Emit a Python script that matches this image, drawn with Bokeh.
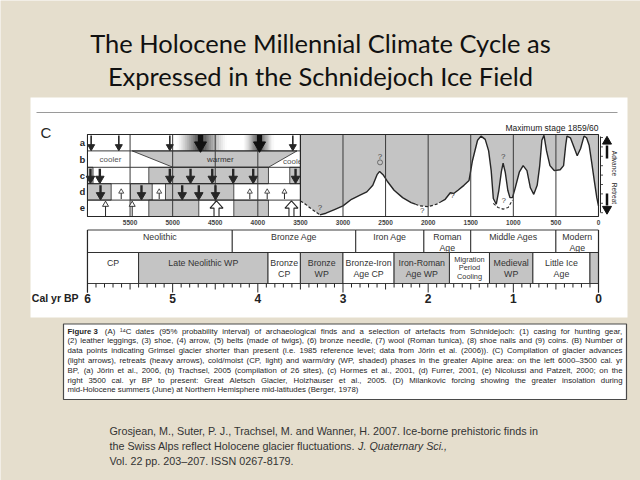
import math
from bokeh.plotting import figure
from bokeh.models import Range1d
from bokeh.core.properties import value
from bokeh.embed import file_html
from bokeh.resources import INLINE

# ------------------------------------------------------------------ data
title_lines = ["The Holocene Millennial Climate Cycle as",
               "Expressed in the Schnidejoch Ice Field"]

row_labels = ["a", "b", "c", "d", "e"]
top_axis_years = [5500, 5000, 4500, 4000, 3500, 3000, 2500, 2000, 1500, 1000, 500, 0]
grid_years = [5500, 5000, 4500, 4000, 3000, 2500, 2000, 1500, 1000, 500]

culture_labels = ["Neolithic", "Bronze Age", "Iron Age", "Roman\nAge", "Middle Ages", "Modern\nAge"]
culture_from = [6000, 4300, 2850, 2050, 1500, 500]
culture_to = [4300, 2850, 2050, 1500, 500, 0]

phase_labels = ["CP", "Late Neolithic WP", "Bronze\nCP", "Bronze\nWP", "Bronze-Iron\nAge CP",
                "Iron-Roman\nAge WP", "Migration\nPeriod\nCooling", "Medieval\nWP", "Little Ice\nAge", ""]
phase_from = [6000, 5400, 3880, 3500, 3000, 2400, 1750, 1280, 770, 100]
phase_to = [5400, 3880, 3500, 3000, 2400, 1750, 1280, 770, 100, 0]
phase_type = ["CP", "WP", "CP", "WP", "CP", "WP", "CP", "WP", "CP", "WP"]

ka_ticks = [6, 5, 4, 3, 2, 1, 0]

# panel rows a-e, 6000-3500 cal yr BP
shaded_row = ["c", "c", "c", "d", "d", "d", "e", "e"]
shaded_from = [6000, 5280, 3625, 6000, 5495, 5084, 5280, 4282]
shaded_to = [5935, 3875, 3500, 5722, 5240, 4282, 4693, 3875]

warm_b_top = [5475, 3540]
warm_b_bottom = [4995, 3875]
b_labels = ["cooler", "warmer", "cooler"]
b_label_years = [5730, 4440, 3575]

gradient_from = [4947, 4165]
gradient_to = [4360, 3812]
gradient_peak = [4673, 3980]

arrow_row = ["a", "a", "a", "a", "a", "a",
             "c", "c", "c", "c", "c", "c", "c", "c",
             "d", "d", "d", "d", "d", "d", "d", "d", "d", "d",
             "e", "e", "e", "e"]
arrow_year = [5957, 5632, 5033, 3589, 4673, 3980,
              5965, 5855, 5033, 4790, 4535, 4289, 4054, 3557,
              5847, 5366, 4888, 4693, 4497, 5604, 5158, 4094, 3890, 3687,
              5788, 5475, 4485, 3605]
arrow_kind = ["thin", "thin", "thin", "thin", "major", "major",
              "retreat", "retreat", "retreat", "retreat", "retreat", "retreat", "retreat", "retreat",
              "retreat", "retreat", "retreat", "retreat", "retreat",
              "advance", "advance", "advance", "advance", "advance",
              "advance_e", "advance_e", "advance_big", "advance_big"]

# Great Aletsch glacier extent (0 = minimum, 1 = maximum stage 1859/60)
glacier_years = [3500, 3440, 3380, 3272, 3200, 3100, 3000, 2900, 2800, 2720, 2650, 2600, 2570, 2530,
                 2480, 2400, 2300, 2200, 2150, 2100, 2000, 1900, 1850, 1800, 1740, 1700, 1650, 1580,
                 1520, 1480, 1420, 1380, 1330, 1290, 1260, 1235, 1200, 1170, 1140, 1120, 1095, 1065,
                 1040, 1010, 980, 930, 885, 840, 800, 760, 720, 690, 665, 640, 610, 570, 520, 450,
                 410, 385, 370, 330, 290, 250, 210, 170, 140, 110, 80, 50, 20, 0]
glacier_extent = [0.19, 0.15, 0.10, 0.02, 0.04, 0.085, 0.13, 0.21, 0.26, 0.30, 0.38, 0.51, 0.55, 0.51,
                  0.43, 0.32, 0.23, 0.17, 0.15, 0.13, 0.12, 0.15, 0.18, 0.21, 0.29, 0.28, 0.32, 0.38,
                  0.44, 0.68, 0.93, 0.98, 0.94, 0.80, 0.56, 0.22, 0.15, 0.32, 0.55, 0.65, 0.54, 0.32,
                  0.23, 0.23, 0.34, 0.54, 0.62, 0.56, 0.35, 0.27, 0.38, 0.62, 0.93, 0.99, 0.80, 0.62,
                  0.56, 0.57, 0.62, 0.87, 0.98, 0.96, 0.85, 0.74, 0.83, 0.98, 0.96, 0.87, 0.66, 0.44,
                  0.23, 0.13]
dashed_from = [3500, 2150]
dashed_to = [3272, 1850]
alt_years = [1235, 1180, 1120, 1060, 1010]
alt_extent = [0.16, 0.11, 0.09, 0.11, 0.20]
question_years = [3270, 2565, 2070, 1715, 1120, 1112]
question_extent = [0.11, 0.73, 0.07, 0.26, 0.73, 0.19]

caption_head = "Figure 3"
caption_lines = [
    "(A) \u00b9\u2074C dates (95% probability interval) of archaeological finds and a selection of artefacts from Schnidejoch: (1) casing for hunting gear,",
    "(2) leather leggings, (3) shoe, (4) arrow, (5) belts (made of twigs), (6) bronze needle, (7) wool (Roman tunica), (8) shoe nails and (9) coins. (B) Number of",
    "data points indicating Grimsel glacier shorter than present (i.e. 1985 reference level; data from J\u00f6rin et al. (2006)). (C) Compilation of glacier advances",
    "(light arrows), retreats (heavy arrows), cold/moist (CP, light) and warm/dry (WP, shaded) phases in the greater Alpine area: on the left 6000\u20133500 cal. yr",
    "BP, (a) J\u00f6rin et al., 2006, (b) Trachsel, 2005 (compilation of 26 sites), (c) Hormes et al., 2001, (d) Furrer, 2001, (e) Nicolussi and Patzelt, 2000; on the",
    "right 3500 cal. yr BP to present: Great Aletsch Glacier, Holzhauser et al., 2005. (D) Milankovic forcing showing the greater insolation during",
    "mid-Holocene summers (June) at Northern Hemisphere mid-latitudes (Berger, 1978)",
]
citation_lines = [
    "Grosjean, M., Suter, P. J., Trachsel, M. and Wanner, H. 2007. Ice-borne prehistoric finds in",
    "the Swiss Alps reflect Holocene glacier fluctuations.",
    "Vol. 22 pp. 203\u2013207. ISSN 0267-8179.",
]
citation_journal = "J. Quaternary Sci.,"

# ------------------------------------------------------------------ layout / style
BG = "#e5decd"
GRAY = "#c4c4c4"
INK = "#262626"
W, H = 640, 480
PX_PER_YR = 0.08517      # horizontal scale of the panel
X_ZERO = 598.0           # page pixel of 0 cal yr BP
YPP = 1.0 / PX_PER_YR
PT, PB = 134.0, 216.0    # upper panel top / bottom (page px)
ROW_H = (PB - PT) / 5.0
row_top = {r: PT + i * ROW_H for i, r in enumerate(row_labels)}
R1T, R1B, R2B = 229.5, 252.0, 283.0

p = figure(width=W, height=H, output_backend="svg", toolbar_location=None, title=None,
           x_range=Range1d(X_ZERO / PX_PER_YR, (X_ZERO - W) / PX_PER_YR),
           y_range=Range1d(H, 0),
           x_axis_location=None, y_axis_location=None,
           min_border=0, min_border_left=0, min_border_right=0, min_border_top=0, min_border_bottom=0)
p.grid.visible = False
p.outline_line_color = None
p.background_fill_color = BG
p.border_fill_color = BG
p.extra_x_ranges = {"px": Range1d(0, W)}
span = PB - PT
p.extra_y_ranges = {"gl": Range1d(-(H - PB) / span, PB / span)}

# approximate Arial / Liberation Sans advance widths (1/1000 em), used to justify text
_AW = {' ': 278, '!': 278, '"': 355, '%': 889, '&': 667, "'": 191, '(': 333, ')': 333, ',': 278,
       '-': 333, '.': 278, '/': 278, ':': 278, ';': 278, '?': 556, 'A': 667, 'B': 667, 'C': 722,
       'D': 722, 'E': 667, 'F': 611, 'G': 778, 'H': 722, 'I': 278, 'J': 500, 'K': 667, 'L': 556,
       'M': 833, 'N': 722, 'O': 778, 'P': 667, 'Q': 778, 'R': 722, 'S': 667, 'T': 611, 'U': 722,
       'V': 667, 'W': 944, 'X': 667, 'Y': 667, 'Z': 611, 'a': 556, 'b': 556, 'c': 500, 'd': 556,
       'e': 556, 'f': 278, 'g': 556, 'h': 556, 'i': 222, 'j': 222, 'k': 500, 'l': 222, 'm': 833,
       'n': 556, 'o': 556, 'p': 556, 'q': 556, 'r': 333, 's': 500, 't': 278, 'u': 556, 'v': 500,
       'w': 722, 'x': 500, 'y': 500, 'z': 500, '\u00b9': 333, '\u2074': 333, '\u2013': 556}


def em(s, bold=False):
    return sum(_AW.get(ch, 556) for ch in s) / 1000.0 * (1.06 if bold else 1.0)


def T(x, y, s, size, align="left", baseline="middle", style="normal", color=INK,
      font="Liberation Sans", angle=0.0, xr="px", yname="default"):
    p.text(x=[x], y=[y], text=[s], x_range_name=xr, y_range_name=yname,
           text_font=value(font), text_font_size=f"{size}px", text_align=align,
           text_baseline=baseline, text_font_style=style, text_color=color, angle=angle)


def words_line(words, x0, x1, y, size, color, justify=True):
    widths = [em(w) * size for w in words]
    if justify and len(words) > 1:
        gap = (x1 - x0 - sum(widths)) / (len(words) - 1)
    else:
        gap = em(" ") * size
    xs, cx = [], x0
    for w in widths:
        xs.append(cx)
        cx += w + gap
    p.text(x=xs, y=[y] * len(words), text=words, x_range_name="px",
           text_font=value("Liberation Sans"), text_font_size=f"{size}px", text_align="left",
           text_baseline="middle", text_color=color)


# ---- title
T(320, 42, title_lines[0], 25.5, align="center", font="Lato", color="#111111")
T(320, 75, title_lines[1], 25.5, align="center", font="Lato", color="#111111")

# ---- white figure area
p.quad(left=[30], right=[627], top=[97], bottom=[317], x_range_name="px",
       fill_color="white", line_color=None)
p.segment(x0=[36], y0=[112], x1=[617], y1=[112], x_range_name="px", line_color="#9a9a9a", line_width=1)
T(40, 132, "C", 15, font="Liberation Sans")
T(X_ZERO, 127.5, "Maximum stage 1859/60", 8.5, align="right", color="#1a1a1a")

# ---- row labels
for r in row_labels:
    T(82, row_top[r] + ROW_H / 2, r, 9.5, align="center", style="bold")

# ---- row a gradients (shaded intervals around major retreats)
for g0, g1, gp in zip(gradient_from, gradient_to, gradient_peak):
    n = 26
    for k in range(n):
        a = g0 + (g1 - g0) * k / n
        b = g0 + (g1 - g0) * (k + 1) / n
        m = 0.5 * (a + b)
        half = (g0 - gp) if m > gp else (gp - g1)
        t = max(0.0, 1 - abs(m - gp) / half)
        lv = int(255 - 200 * t ** 1.3)
        c = "#%02x%02x%02x" % (lv, lv, lv)
        p.quad(left=[a], right=[b], top=[row_top["a"]], bottom=[row_top["a"] + ROW_H],
               fill_color=c, line_color=c, line_width=0.5)

# ---- row b warm trapezoid
p.patch(x=[warm_b_top[0], warm_b_top[1], warm_b_bottom[1], warm_b_bottom[0]],
        y=[row_top["b"], row_top["b"], row_top["b"] + ROW_H, row_top["b"] + ROW_H],
        fill_color=GRAY, line_color=INK, line_width=0.8)
for lab, yr in zip(b_labels, b_label_years):
    dy = 2 if lab == "cooler" and yr < 4000 else 0
    col = "#333333" if lab == "warmer" else "#555555"
    T(yr, row_top["b"] + ROW_H / 2 + dy, lab, 8, align="center", xr="default", color=col)

# ---- shaded cells rows c-e
for r, s0, s1 in zip(shaded_row, shaded_from, shaded_to):
    p.quad(left=[s0], right=[s1], top=[row_top[r]], bottom=[row_top[r] + ROW_H],
           fill_color=GRAY, line_color=INK, line_width=0.8)

# ---- glacier curve area (3500-0)
p.varea(x=glacier_years, y1=glacier_extent, y2=[1.0] * len(glacier_years),
        y_range_name="gl", fill_color=GRAY)

solid_x, solid_y, dash_x, dash_y = [], [], [], []
cur_style, cur_x, cur_y = None, [], []
for i in range(len(glacier_years) - 1):
    m = 0.5 * (glacier_years[i] + glacier_years[i + 1])
    dashed = any(d1 <= m <= d0 for d0, d1 in zip(dashed_from, dashed_to))
    if dashed != cur_style:
        if cur_x:
            (dash_x if cur_style else solid_x).append(cur_x)
            (dash_y if cur_style else solid_y).append(cur_y)
        cur_style = dashed
        cur_x, cur_y = [glacier_years[i]], [glacier_extent[i]]
    cur_x.append(glacier_years[i + 1])
    cur_y.append(glacier_extent[i + 1])
(dash_x if cur_style else solid_x).append(cur_x)
(dash_y if cur_style else solid_y).append(cur_y)
p.multi_line(xs=solid_x, ys=solid_y, y_range_name="gl", line_color=INK, line_width=1.4)
p.multi_line(xs=dash_x, ys=dash_y, y_range_name="gl", line_color=INK, line_width=1.2, line_dash="3 2")
p.line(alt_years, alt_extent, y_range_name="gl", line_color=INK, line_width=1.1, line_dash="3 2")
p.scatter([2565], [0.66], y_range_name="gl", marker="circle", size=5, fill_color=None,
          line_color="#555555", line_width=0.8)
for qy, qe in zip(question_years, question_extent):
    p.text(x=[qy], y=[qe], text=["?"], y_range_name="gl", text_font=value("Liberation Sans"),
           text_font_size="8px", text_align="center", text_baseline="middle", text_color="#444444")

# ---- row lines and grid
for i in range(6):
    yy = PT + i * ROW_H
    p.segment(x0=[6000], y0=[yy], x1=[3500], y1=[yy], line_color=INK, line_width=0.9)
p.segment(x0=grid_years, y0=[PT] * len(grid_years), x1=grid_years, y1=[PB] * len(grid_years),
          line_color="#3a3a3a", line_width=1.0)
p.segment(x0=[3500], y0=[PT], x1=[3500], y1=[PB], line_color=INK, line_width=1.2)
p.quad(left=[6000], right=[0], top=[PT], bottom=[PB], fill_color=None, line_color=INK, line_width=1.1)

# ---- arrows
for r, yr, k in zip(arrow_row, arrow_year, arrow_kind):
    t0 = row_top[r]
    b0 = t0 + ROW_H
    if k == "thin":
        p.segment(x0=[yr], y0=[t0 + 1], x1=[yr], y1=[b0 - 5], line_color=INK, line_width=1.6)
        p.scatter([yr], [b0 - 4.2], marker="inverted_triangle", size=7, fill_color=INK, line_color=INK)
    elif k == "major":
        p.segment(x0=[yr], y0=[t0 + 0.5], x1=[yr], y1=[b0 - 7], line_color="#111111", line_width=5)
        p.scatter([yr], [b0 - 5.5], marker="inverted_triangle", size=12, fill_color="#111111", line_color="#111111")
    elif k == "retreat":
        p.segment(x0=[yr], y0=[t0 + 1.5], x1=[yr], y1=[b0 - 6], line_color=INK, line_width=2.4)
        p.scatter([yr], [b0 - 5], marker="inverted_triangle", size=8.5, fill_color=INK, line_color=INK)
    elif k == "advance":
        p.segment(x0=[yr], y0=[b0 - 1], x1=[yr], y1=[t0 + 8], line_color=INK, line_width=1.0)
        p.scatter([yr], [t0 + 8], marker="triangle", size=5, fill_color="white", line_color=INK, line_width=0.8)
    elif k == "advance_e":
        p.segment(x0=[yr], y0=[b0], x1=[yr], y1=[t0 + 4.5], line_color=INK, line_width=1.0)
        p.scatter([yr], [t0 + 4.5], marker="triangle", size=6, fill_color="white", line_color=INK, line_width=0.9)
    elif k == "advance_big":
        dxs = [0, 6.5, 2.5, 2.5, -2.5, -2.5, -6.5]
        dys = [t0 + 0.8, t0 + 8, t0 + 8, b0, b0, t0 + 8, t0 + 8]
        p.patch(x=[yr - d * YPP for d in dxs], y=dys, fill_color="white", line_color=INK, line_width=1.1)

# ---- right-hand scale (advance / retreat)
p.segment(x0=[600], y0=[136], x1=[600], y1=[212], x_range_name="px", line_color=INK, line_width=1)
tick_y = [137 + k * 9.4 for k in range(9)]
p.segment(x0=[600] * 9, y0=tick_y, x1=[602.5] * 9, y1=tick_y, x_range_name="px", line_color=INK, line_width=0.8)
p.segment(x0=[606.5], y0=[145], x1=[606.5], y1=[158], x_range_name="px", line_color="#111111", line_width=2.5)
p.scatter([606.5], [141], x_range_name="px", marker="triangle", size=9, fill_color="#111111", line_color="#111111")
p.segment(x0=[606.5], y0=[193], x1=[606.5], y1=[205], x_range_name="px", line_color="#111111", line_width=2.5)
p.scatter([606.5], [208.5], x_range_name="px", marker="inverted_triangle", size=9, fill_color="#111111", line_color="#111111")
T(614, 163, "Advance", 6.5, align="center", angle=-math.pi / 2)
T(614, 193, "Retreat", 6.5, align="center", angle=-math.pi / 2)

# ---- upper axis year labels
for yv in top_axis_years:
    T(yv, 222, str(yv), 6.5, align="center", style="bold", xr="default", color="#444444")

# ---- culture periods (row 1)
p.quad(left=culture_from, right=culture_to, top=[R1T] * len(culture_from), bottom=[R1B] * len(culture_from),
       fill_color="white", line_color=INK, line_width=0.9)
for lab, a, b in zip(culture_labels, culture_from, culture_to):
    for j, ln in enumerate(lab.split("\n")):
        T(0.5 * (a + b), 236.5 + j * 10.5, ln, 8.8, align="center", xr="default", color="#333333")

# ---- climate phases (row 2)
p.quad(left=phase_from, right=phase_to, top=[R1B] * len(phase_from), bottom=[R2B] * len(phase_from),
       fill_color=[GRAY if t == "WP" else "white" for t in phase_type], line_color=INK, line_width=0.9)
for lab, a, b in zip(phase_labels, phase_from, phase_to):
    lines = lab.split("\n") if lab else []
    if len(lines) == 3:
        for j, ln in enumerate(lines):
            T(0.5 * (a + b), 258.5 + j * 8.8, ln, 7.4, align="center", xr="default", color="#333333")
    else:
        for j, ln in enumerate(lines):
            T(0.5 * (a + b), 262 + j * 11, ln, 8.8, align="center", xr="default", color="#333333")

# ---- lower time axis (ka cal BP)
tick_years = list(range(0, 6001, 100))
tick_len = [9 if t % 1000 == 0 else (6 if t % 500 == 0 else 4) for t in tick_years]
p.segment(x0=tick_years, y0=[R2B] * len(tick_years), x1=tick_years,
          y1=[R2B + L for L in tick_len], line_color=INK, line_width=1)
p.segment(x0=[6000, 0], y0=[R1T, R1T], x1=[6000, 0], y1=[R2B + 9, R2B + 9], line_color=INK, line_width=1.2)
for k in ka_ticks:
    T(k * 1000, 297.5, str(k), 12, align="center", style="bold", xr="default", color="#222222")
T(78, 297.5, "Cal yr BP", 10.5, align="right", style="bold", color="#222222")

# ---- caption box (justified text)
CX0, CX1 = 67.0, 622.0
p.quad(left=[63], right=[626], top=[323.5], bottom=[399], x_range_name="px",
       fill_color="white", line_color="#4a4a4a", line_width=1.2)
head_w = em(caption_head, bold=True)
need = []
for i, ln in enumerate(caption_lines[:6]):
    ws = ln.split(" ")
    base = em("".join(ws)) + 0.22 * (len(ws) - 1)
    if i == 0:
        base += head_w + 0.9
    need.append(base)
cap_size = min(7.8, min((CX1 - CX0) / b for b in need))
T(CX0, 330.5, caption_head, cap_size, style="bold", color="#1e1e1e")
for i, ln in enumerate(caption_lines):
    y = 330.5 + i * 9.8
    x0 = CX0 + (head_w + 0.9) * cap_size if i == 0 else CX0
    words_line(ln.split(" "), x0, CX1, y, cap_size, "#1e1e1e", justify=(i < 6))

# ---- citation
cite_size = 432.0 / em(citation_lines[0])
T(109, 430, citation_lines[0], cite_size, color="#333333")
T(109, 445, citation_lines[1], cite_size, color="#333333")
T(109 + (em(citation_lines[1]) + em(" ")) * cite_size, 445, citation_journal, cite_size,
  style="italic", color="#333333")
T(109, 460, citation_lines[2], cite_size, color="#333333")

open("out.html", "w").write(file_html(p, INLINE))
